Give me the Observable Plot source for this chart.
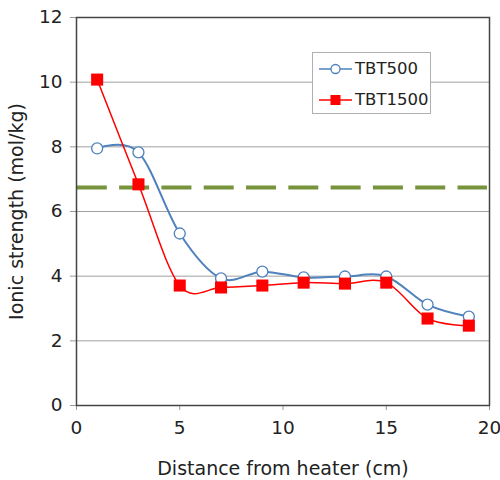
<!DOCTYPE html>
<html><head><meta charset="utf-8">
<script src="https://cdn.jsdelivr.net/npm/d3@7"></script>
<script src="https://cdn.jsdelivr.net/npm/@observablehq/plot@0.6"></script>
<style>
body{margin:0;background:#fff;font-family:"DejaVu Sans",Verdana,sans-serif;}
#wrap{position:relative;width:500px;height:480px;}
#legend{position:absolute;left:312px;top:52px;width:119px;height:62px;border:1px solid #b0b0b0;background:#fff;box-sizing:border-box;font-size:16.5px;color:#222;}
#legend .it{position:absolute;left:6px;display:flex;align-items:center;gap:3px;line-height:16px;}
</style></head>
<body><div id="wrap"><div id="chart"></div>
<div id="legend">
 <div class="it" style="top:8px"><svg width="33" height="14"><line x1="0" y1="7" x2="33" y2="7" stroke="#4F81BD" stroke-width="1.5"/><circle cx="16.5" cy="7" r="4.5" fill="#fff" stroke="#4F81BD" stroke-width="1.3"/></svg><span>TBT500</span></div>
 <div class="it" style="top:39px"><svg width="33" height="14"><line x1="0" y1="7" x2="33" y2="7" stroke="#FF0000" stroke-width="1.5"/><rect x="11.5" y="2" width="10" height="10" fill="#FF0000"/></svg><span>TBT1500</span></div>
</div></div>
<script>
const distance = [1, 3, 5, 7, 9, 11, 13, 15, 17, 19];
const tbt500 = [7.95, 7.83, 5.32, 3.93, 4.14, 3.96, 3.99, 3.99, 3.12, 2.75];
const tbt1500 = [10.08, 6.84, 3.71, 3.65, 3.71, 3.80, 3.77, 3.80, 2.69, 2.47];
const threshold = 6.74;
const xTicks = [0, 5, 10, 15, 20];
const yTicks = [0, 2, 4, 6, 8, 10, 12];

const d500 = distance.map((x, i) => ({x, y: tbt500[i]}));
const d1500 = distance.map((x, i) => ({x, y: tbt1500[i]}));

const chart = Plot.plot({
  width: 500, height: 480,
  marginLeft: 76, marginRight: 11, marginTop: 17, marginBottom: 75,
  style: {fontFamily: "DejaVu Sans, Verdana, sans-serif", fontSize: "18.5px", color: "#222", background: "#fff"},
  x: {domain: [0, 20], labelArrow: "none"},
  y: {domain: [0, 12], labelArrow: "none"},
  marks: [
    Plot.gridY(yTicks.filter(v => v > 0 && v < 12), {stroke: "#a0a0a0", strokeOpacity: 1}),
    Plot.axisX(xTicks, {tickSize: 5, tickPadding: 10, stroke: "#999", label: null, fontSize: 18.5}),
    Plot.axisY(yTicks, {tickSize: 6, tickPadding: 8, stroke: "#999", label: null, fontSize: 18.5}),
    Plot.axisX({label: "Distance from heater (cm)", labelArrow: "none", labelAnchor: "center", labelOffset: 69, fontSize: 19, ticks: [], tickSize: 0}),
    Plot.axisY({label: "Ionic strength (mol/kg)", labelArrow: "none", labelAnchor: "center", labelOffset: 67, fontSize: 19, ticks: [], tickSize: 0}),
    Plot.ruleY([threshold], {stroke: "#77933C", strokeWidth: 4, strokeDasharray: "30,12.3", x1: 0.04, x2: 19.9}),
    Plot.line(d500, {x: "x", y: "y", stroke: "#4F81BD", strokeWidth: 2, curve: "cardinal"}),
    Plot.line(d1500, {x: "x", y: "y", stroke: "#FF0000", strokeWidth: 1.5, curve: "cardinal"}),
    Plot.dot(d500, {x: "x", y: "y", r: 5.5, fill: "#fff", stroke: "#4F81BD", strokeWidth: 1.3}),
    Plot.dot(d1500, {x: "x", y: "y", r: 6.8, symbol: "square", fill: "#FF0000", stroke: "none"}),
    Plot.frame({stroke: "#444", strokeWidth: 1.5})
  ]
});
document.getElementById("chart").appendChild(chart);
</script></body></html>
